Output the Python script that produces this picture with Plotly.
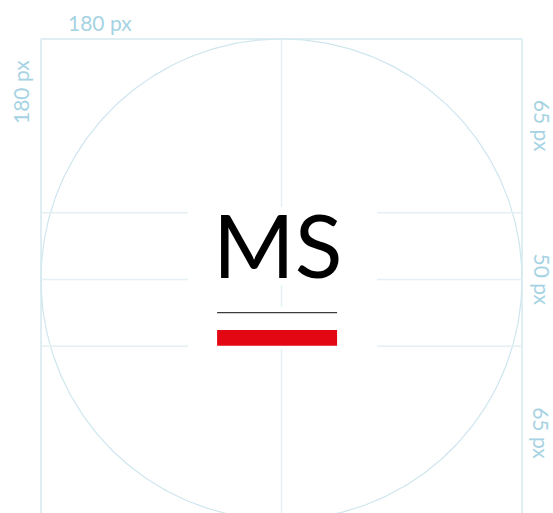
import plotly.graph_objects as go
import numpy as np

# ---- data (logo spec, in logo px units) ----
size = 180                    # circle / square size
bands = [65, 50, 65]          # horizontal band heights
size_labels = ["180 px", "180 px"]
band_labels = ["65 px", "50 px", "65 px"]
logo_text = "MS"
# logo element extents in logo units
rule_x = [65.9, 110.8]
rule_y = 102.4
bar_y = [108.9, 114.8]
gap_x = [55.0, 125.7]
gap_y1 = [62.9, 92.0]
gap_y2 = [100.3, 116.0]

W, H = 553, 513
ox, oy = 41, 39
s = 481 / size

line_c = "#d3e8ef"
grid_c = "#e4f0f4"
lab_c = "#a6d3e3"

fig = go.Figure()

# circle
t = np.linspace(0, 2 * np.pi, 400)
r = size / 2
fig.add_trace(go.Scatter(x=r + r * np.cos(t), y=r + r * np.sin(t), mode="lines",
                         line=dict(color="#cfe6ee", width=1.2), hoverinfo="skip"))

shapes = []
# square outline (top, left, right)
shapes.append(dict(type="line", x0=0, x1=size, y0=0, y1=0, line=dict(color=line_c, width=1.5)))
shapes.append(dict(type="line", x0=0, x1=0, y0=0, y1=size, line=dict(color=line_c, width=1.5)))
shapes.append(dict(type="line", x0=size, x1=size, y0=0, y1=size, line=dict(color=line_c, width=1.5)))

# horizontal band lines
ys = np.cumsum([0] + bands)[1:-1].tolist()
mid = size / 2
for yy in ys + [mid]:
    shapes.append(dict(type="line", x0=0, x1=gap_x[0], y0=yy, y1=yy, line=dict(color=grid_c, width=1.5)))
    shapes.append(dict(type="line", x0=gap_x[1], x1=size, y0=yy, y1=yy, line=dict(color=grid_c, width=1.5)))

# vertical center line with gaps
segs = [(0, gap_y1[0]), (gap_y1[1], gap_y2[0]), (gap_y2[1], size)]
for a, b in segs:
    shapes.append(dict(type="line", x0=mid, x1=mid, y0=a, y1=b, line=dict(color=grid_c, width=1.5)))

# logo rule and red bar
shapes.append(dict(type="line", x0=rule_x[0], x1=rule_x[1], y0=rule_y, y1=rule_y,
                   line=dict(color="#3a3a3a", width=1.2)))
shapes.append(dict(type="rect", x0=rule_x[0], x1=rule_x[1], y0=bar_y[0], y1=bar_y[1],
                   line=dict(width=0), fillcolor="#e30613"))

fig.update_layout(shapes=shapes)

ann = []
ann.append(dict(x=(rule_x[0] + rule_x[1]) / 2, y=76.8, text=logo_text, showarrow=False,
                xanchor="center", yanchor="middle",
                font=dict(family="Lato", size=88, color="#000000", weight=400)))
# size labels
ann.append(dict(x=(100 - ox) / s, y=(22 - oy) / s, text=size_labels[0], showarrow=False,
                xanchor="center", yanchor="middle", font=dict(family="Lato", size=21, color=lab_c)))
ann.append(dict(x=(20 - ox) / s, y=(92 - oy) / s, text=size_labels[1], showarrow=False, textangle=-90,
                xanchor="center", yanchor="middle", font=dict(family="Lato", size=21, color=lab_c)))
# band labels
edges = np.cumsum([0] + bands)
for i, lab in enumerate(band_labels):
    cy = (edges[i] + edges[i + 1]) / 2
    ann.append(dict(x=(542 - ox) / s, y=cy, text=lab, showarrow=False, textangle=90,
                    xanchor="center", yanchor="middle", font=dict(family="Lato", size=21, color=lab_c)))
fig.update_layout(annotations=ann)

fig.update_layout(
    width=W, height=H, margin=dict(l=0, r=0, t=0, b=0),
    paper_bgcolor="white", plot_bgcolor="white", showlegend=False,
    xaxis=dict(range=[-ox / s, (W - ox) / s], visible=False, fixedrange=True),
    yaxis=dict(range=[(H - oy) / s, -oy / s], visible=False, fixedrange=True),
)
fig.write_html("out.html", config={"displayModeBar": False},
               post_script="document.body.style.margin='0';document.body.style.overflow='hidden';")
